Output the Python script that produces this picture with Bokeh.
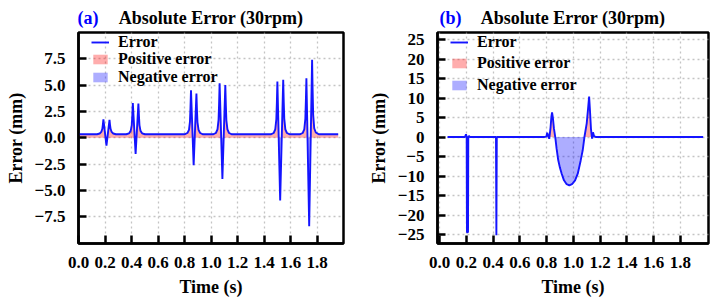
import numpy as np
from bokeh.plotting import figure
from bokeh.layouts import row, column
from bokeh.models import FixedTicker, Label, Legend, LegendItem
from bokeh.embed import file_html
from bokeh.resources import INLINE

FONT = "Liberation Serif"

# shared time axis
time_ticks = [0.0, 0.2, 0.4, 0.6, 0.8, 1.0, 1.2, 1.4, 1.6, 1.8]
time_tick_labels = ["0.0", "0.2", "0.4", "0.6", "0.8", "1.0", "1.2", "1.4", "1.6", "1.8"]

# panel (a): error trace (s, mm)
a_time = [
    0.000, 0.140, 0.160, 0.172, 0.180, 0.184, 0.188, 0.211, 0.234, 0.238, 0.242, 0.250, 0.262, 0.282,
    0.360, 0.382, 0.394, 0.402, 0.406, 0.410, 0.431, 0.452, 0.456, 0.460, 0.468, 0.480, 0.502,
    0.800, 0.822, 0.834, 0.841, 0.845, 0.849, 0.869, 0.890, 0.894, 0.898, 0.906, 0.918, 0.940,
    1.015, 1.037, 1.049, 1.057, 1.061, 1.065, 1.086, 1.108, 1.112, 1.116, 1.124, 1.136, 1.158,
    1.451, 1.473, 1.485, 1.493, 1.497, 1.501, 1.522, 1.545, 1.549, 1.553, 1.561, 1.573, 1.595,
    1.670, 1.692, 1.704, 1.712, 1.716, 1.720, 1.741, 1.763, 1.767, 1.771, 1.779, 1.791, 1.813,
    1.960,
]
a_error = [
    0.33, 0.33, 0.40, 0.55, 0.85, 1.25, 1.75, -0.75, 1.70, 1.20, 0.85, 0.55, 0.40, 0.33,
    0.33, 0.42, 0.65, 1.20, 2.10, 3.30, -1.55, 3.25, 2.10, 1.20, 0.65, 0.42, 0.33,
    0.33, 0.45, 0.75, 1.50, 2.80, 4.50, -2.62, 4.20, 2.60, 1.45, 0.75, 0.45, 0.33,
    0.33, 0.45, 0.80, 1.70, 3.20, 5.18, -3.92, 5.00, 3.10, 1.65, 0.80, 0.45, 0.33,
    0.33, 0.45, 0.80, 1.75, 3.30, 5.33, -5.95, 5.50, 3.40, 1.80, 0.80, 0.45, 0.33,
    0.33, 0.45, 0.80, 1.80, 3.50, 5.65, -8.40, 7.42, 4.50, 2.20, 0.90, 0.50, 0.33,
    0.33,
]
a_ticks = [-7.5, -5.0, -2.5, 0.0, 2.5, 5.0, 7.5]
a_tick_labels = ["\u22127.5", "\u22125.0", "\u22122.5", "0.0", "2.5", "5.0", "7.5"]

# panel (b): error trace (s, mm)
b_time = [
    0.060, 0.190, 0.198, 0.203, 0.205, 0.213, 0.215, 0.220, 0.226,
    0.422, 0.425, 0.428,
    0.780, 0.798, 0.805, 0.812, 0.820, 0.830, 0.836, 0.841, 0.847, 0.855, 0.865,
    0.875, 0.887, 0.900, 0.913, 0.930, 0.950, 0.970, 0.990, 1.013, 1.033, 1.055, 1.070, 1.083,
    1.100, 1.112, 1.118, 1.124, 1.132, 1.140, 1.147, 1.155, 1.170,
    1.970,
]
b_error = [
    0.0, 0.0, 0.7, 0.0, -24.4, -24.4, 0.0, 0.3, 0.0,
    0.0, -25.2, 0.0,
    0.0, 0.1, 1.1, 0.3, -0.45, 2.5, 5.2, 6.3, 5.0, 2.2, 0.0,
    -3.0, -5.9, -7.9, -9.4, -11.1, -12.1, -12.4, -12.1, -11.1, -9.4, -6.0, -3.4, 0.0,
    3.5, 8.0, 10.4, 7.0, 2.0, -0.4, 1.2, 0.2, 0.0,
    0.0,
]
b_ticks = [-25, -20, -15, -10, -5, 0, 5, 10, 15, 20, 25]
b_tick_labels = ["\u221225", "\u221220", "\u221215", "\u221210", "\u22125", "0", "5", "10", "15", "20", "25"]

HEADER_H = 30
MAIN_H = 301 - HEADER_H
B_TOP, B_BOTTOM = 2, 58
FRAME_H = MAIN_H - B_TOP - B_BOTTOM


def with_zero_crossings(t, e):
    """Insert the points where the polyline crosses zero so both fills meet at 0."""
    t = np.asarray(t, float)
    e = np.asarray(e, float)
    xs, ys = [t[0]], [e[0]]
    for i in range(1, len(t)):
        if e[i - 1] * e[i] < 0:
            f = e[i - 1] / (e[i - 1] - e[i])
            xs.append(t[i - 1] + f * (t[i] - t[i - 1]))
            ys.append(0.0)
        xs.append(t[i])
        ys.append(e[i])
    return np.array(xs), np.array(ys)


def make_header(tag, width, b_left, b_right, tag_dx):
    """Strip above a panel holding its tag and title."""
    h = figure(width=width, height=HEADER_H, x_range=(0, width), y_range=(0, HEADER_H),
               x_axis_type=None, y_axis_type=None, output_backend="svg",
               toolbar_location=None, title=None, min_border=0)
    h.outline_line_color = None
    h.background_fill_color = "white"
    h.border_fill_color = "white"
    fw = width - b_left - b_right
    base = 13
    h.add_layout(Label(x=b_left + fw / 2, y=base, text="Absolute Error (30rpm)",
                       text_align="center", text_baseline="alphabetic", text_font=FONT,
                       text_font_style="bold", text_font_size="18px", text_color="black"))
    h.add_layout(Label(x=b_left + tag_dx, y=base, text=tag, text_align="left",
                       text_baseline="alphabetic", text_font=FONT, text_font_style="bold",
                       text_font_size="18px", text_color="#0000ff"))
    return h


def make_panel(t, e, x_range, y_range, yticks, ylabels, width, b_left, b_right, legend_rows):
    p = figure(width=width, height=MAIN_H, x_range=x_range, y_range=y_range,
               output_backend="svg", toolbar_location=None, title=None,
               min_border_left=b_left, min_border_right=b_right,
               min_border_top=B_TOP, min_border_bottom=B_BOTTOM)
    p.background_fill_color = "white"
    p.border_fill_color = "white"
    p.outline_line_color = "black"
    p.outline_line_width = 2.5

    tt, ee = with_zero_crossings(t, e)
    pos = p.varea(x=tt, y1=0, y2=np.maximum(ee, 0), fill_color="#ff0000", fill_alpha=0.32)
    neg = p.varea(x=tt, y1=np.minimum(ee, 0), y2=0, fill_color="#0000ff", fill_alpha=0.32)
    ln = p.line(t, e, line_color="#1414ff", line_width=1.9)

    # axes
    p.xaxis.ticker = FixedTicker(ticks=time_ticks)
    p.xaxis.major_label_overrides = dict(zip(time_ticks, time_tick_labels))
    p.yaxis.ticker = FixedTicker(ticks=yticks)
    p.yaxis.major_label_overrides = dict(zip(yticks, ylabels))
    p.xaxis.axis_label = "Time (s)"
    p.yaxis.axis_label = "Error (mm)"
    for ax in (p.xaxis[0], p.yaxis[0]):
        ax.major_tick_in = 8
        ax.major_tick_out = 0
        ax.minor_tick_in = 0
        ax.minor_tick_out = 0
        ax.axis_line_color = "black"
        ax.axis_line_width = 2.5
        ax.major_tick_line_color = "black"
        ax.major_tick_line_width = 2.5
        ax.major_label_standoff = 13
        ax.major_label_text_font = FONT
        ax.major_label_text_font_style = "bold"
        ax.major_label_text_font_size = "17px"
        ax.major_label_text_color = "black"
        ax.axis_label_text_font = FONT
        ax.axis_label_text_font_style = "bold"
        ax.axis_label_text_font_size = "18px"
        ax.axis_label_text_color = "black"
        ax.axis_label_standoff = 6

    # dotted grid
    for g in (p.xgrid[0], p.ygrid[0]):
        g.grid_line_color = "#c4c4c4"
        g.grid_line_dash = "2 3"
        g.grid_line_width = 1.3

    # legend, one row per entry so each row sits at its own offset
    items = [("Error", ln), ("Positive error", pos), ("Negative error", neg)]
    for (label, r), c in zip(items, legend_rows):
        leg = Legend(items=[LegendItem(label=label, renderers=[r])],
                     location=(13, FRAME_H - c - 10), margin=0, padding=0, spacing=0,
                     glyph_width=18, glyph_height=12, label_height=20, label_standoff=9,
                     label_text_font=FONT, label_text_font_style="bold",
                     label_text_font_size="16px", label_text_color="black",
                     background_fill_alpha=0, border_line_alpha=0)
        p.add_layout(leg)
    return p


ha = make_header("(a)", 357, 78, 14, -1)
hb = make_header("(b)", 358, 80, 7, 2)
pa = make_panel(a_time, a_error, (0.0, 2.0), (-10.05, 10.0), a_ticks, a_tick_labels,
                357, 78, 14, [9.5, 27.2, 45.0])
pb = make_panel(b_time, b_error, (-0.015, 2.01), (-27.3, 26.8), b_ticks, b_tick_labels,
                358, 80, 7, [9.7, 31, 53])

layout = column(row(ha, hb), row(pa, pb))
open("out.html", "w").write(file_html(layout, INLINE))
